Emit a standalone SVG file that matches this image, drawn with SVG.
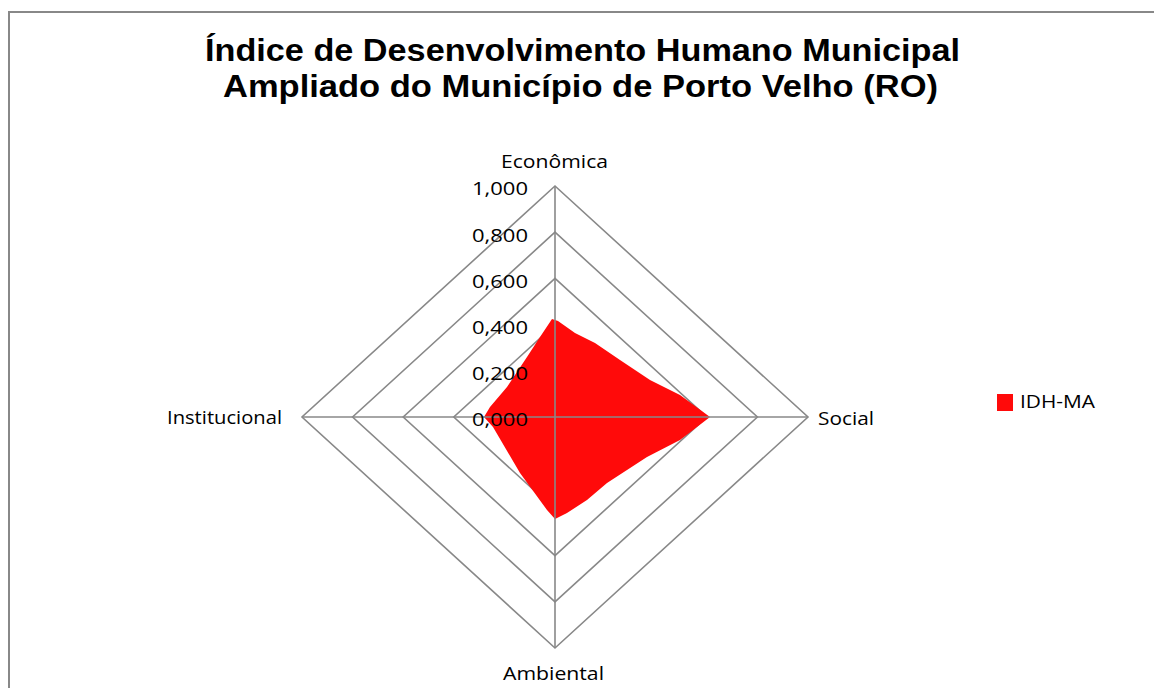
<svg xmlns="http://www.w3.org/2000/svg" width="1154" height="688" viewBox="0 0 1154 688">
<style>
text{font-family:"Open Sans","Liberation Sans",sans-serif;fill:#000}
.title{font-family:"Liberation Sans","Open Sans",sans-serif;font-size:31px;font-weight:bold}
.lbl{font-size:18px}
.tick{font-size:19px}
.grid{fill:none;stroke:#888;stroke-width:1.6}
</style>
<rect x="9" y="12" width="1160" height="700" fill="#fff" stroke="#888" stroke-width="2"/>
<g id="title">
<text class="title" x="205" y="61" textLength="755" lengthAdjust="spacingAndGlyphs">Índice de Desenvolvimento Humano Municipal</text>
<text class="title" x="223" y="97" textLength="715" lengthAdjust="spacingAndGlyphs">Ampliado do Município de Porto Velho (RO)</text>
</g>
<g id="grid">
<polygon class="grid" points="555,186 808,417 555,648 302,417"/>
<polygon class="grid" points="555,232.2 757.4,417 555,601.8 352.6,417"/>
<polygon class="grid" points="555,278.4 706.8,417 555,555.6 403.2,417"/>
<polygon class="grid" points="555,324.6 656.2,417 555,509.4 453.8,417"/>
<polygon class="grid" points="555,370.8 605.6,417 555,463.2 504.4,417"/>
</g>
<g id="series">
<polygon fill="#ff0a0a" points="552,319 558,321 575,333 595,343 620,360 650,380 680,395 710,417 680,440 647,457 607,483 587,500 567,513 555,519 547,510 520,473 493,427 484,417 490,407 507,387 527,357 540,337"/>
</g>
<g id="axes">
<line class="grid" x1="555" y1="186" x2="555" y2="648"/>
<line class="grid" x1="302" y1="417" x2="808" y2="417"/>
</g>
<g id="ticks">
<text class="tick" x="472" y="195" textLength="56" lengthAdjust="spacingAndGlyphs">1,000</text>
<text class="tick" x="472" y="242" textLength="56" lengthAdjust="spacingAndGlyphs">0,800</text>
<text class="tick" x="472" y="288" textLength="56" lengthAdjust="spacingAndGlyphs">0,600</text>
<text class="tick" x="472" y="334" textLength="56" lengthAdjust="spacingAndGlyphs">0,400</text>
<text class="tick" x="472" y="380" textLength="56" lengthAdjust="spacingAndGlyphs">0,200</text>
<text class="tick" x="472" y="426" textLength="56" lengthAdjust="spacingAndGlyphs">0,000</text>
</g>
<g id="labels">
<text class="lbl" x="501" y="168" textLength="107" lengthAdjust="spacingAndGlyphs">Econômica</text>
<text class="lbl" x="818" y="425" textLength="56" lengthAdjust="spacingAndGlyphs">Social</text>
<text class="lbl" x="503" y="680" textLength="101" lengthAdjust="spacingAndGlyphs">Ambiental</text>
<text class="lbl" x="167" y="424" textLength="115" lengthAdjust="spacingAndGlyphs">Institucional</text>
</g>
<g id="legend">
<rect x="997" y="394" width="16" height="17" fill="#ff0a0a"/>
<text class="lbl" x="1020" y="408" textLength="75" lengthAdjust="spacingAndGlyphs">IDH-MA</text>
</g>
</svg>
